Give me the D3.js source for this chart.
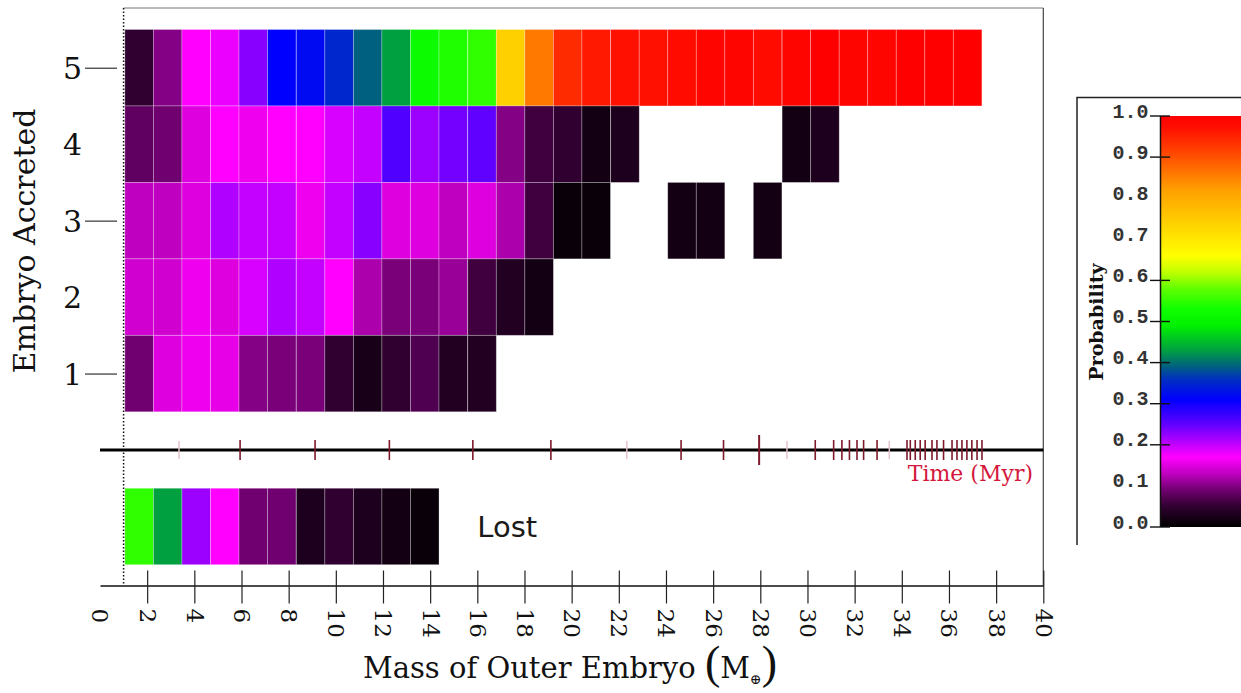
<!DOCTYPE html>
<html>
<head>
<meta charset="utf-8">
<script src="https://cdn.jsdelivr.net/npm/d3@7"></script>
<style>
  html, body { margin: 0; padding: 0; background: #fff; }
  svg { display: block; }
</style>
</head>
<body>
<svg id="chart" width="1241" height="693"></svg>
<script>
// Mass bins of the outer embryo (bin centres, Earth masses)
const massBins = [1.66, 2.87, 4.08, 5.29, 6.50, 7.71, 8.93, 10.14, 11.35, 12.56,
                  13.77, 14.98, 16.20, 17.41, 18.62, 19.83, 21.04, 22.26, 23.47, 24.68,
                  25.89, 27.10, 28.31, 29.53, 30.74, 31.95, 33.16, 34.37, 35.58, 36.79];
const binWidth = 1.2117;

// Probability of having accreted N embryos, per mass bin (null = no outcome)
const accreted5 = [0.05, 0.10, 0.17, 0.18, 0.23, 0.31, 0.32, 0.35, 0.39, 0.43,
                   0.52, 0.54, 0.55, 0.74, 0.86, 0.94, 0.96, 0.97, 0.97, 0.98,
                   0.99, 0.99, 0.98, 0.99, 1.00, 0.99, 0.99, 1.00, 1.00, 1.00];
const accreted4 = [0.08, 0.09, 0.15, 0.17, 0.16, 0.17, 0.17, 0.19, 0.20, 0.26,
                   0.22, 0.24, 0.25, 0.10, 0.06, 0.05, 0.02, 0.03, null, null,
                   null, null, null, 0.02, 0.03];
const accreted3 = [0.13, 0.13, 0.15, 0.21, 0.20, 0.20, 0.16, 0.20, 0.23, 0.15,
                   0.15, 0.13, 0.15, 0.12, 0.06, 0.01, 0.01, null, null, 0.02,
                   0.02, null, 0.02];
const accreted2 = [0.14, 0.14, 0.16, 0.15, 0.19, 0.21, 0.20, 0.17, 0.12, 0.095,
                   0.095, 0.11, 0.06, 0.035, 0.02];
const accreted1 = [0.09, 0.15, 0.16, 0.155, 0.10, 0.095, 0.095, 0.05, 0.025, 0.05,
                   0.07, 0.035, 0.035];
const lostProb  = [0.55, 0.43, 0.22, 0.17, 0.09, 0.09, 0.03, 0.05, 0.03, 0.02, 0.01];

// Outer-embryo mass reached at successive Myr marks
const timeMarks      = [5.94, 9.12, 12.27, 15.81, 19.12, 24.64, 26.44, 30.33, 31.11, 31.46,
                        31.78, 32.10, 32.38, 32.95, 34.22, 34.36, 34.57, 34.78, 34.99, 35.28,
                        35.49, 35.77, 36.13, 36.34, 36.55, 36.76, 36.97, 37.19, 37.40];
const timeMarksFaint = [3.35, 22.34, 29.13, 33.47];
const timeMarksMajor = [27.95];

// Axis ticks and labels
const xLabels = d3.range(0, 41, 2);
const xTicks  = d3.range(2, 41, 2);
const yLabels = [1, 2, 3, 4, 5];
const yTicks  = [1, 3, 5];
const probLabels = [0, 0.1, 0.2, 0.3, 0.4, 0.5, 0.6, 0.7, 0.8, 0.9, 1.0];
const probTicks  = [0, 0.2, 0.3, 0.4, 0.5, 0.6, 0.9, 1.0];

// Colour table: black -> purple -> magenta -> blue -> green -> yellow -> red
const probStops  = [0.00, 0.05, 0.09, 0.13, 0.17, 0.21, 0.25, 0.31, 0.36, 0.39, 0.43,
                    0.49, 0.53, 0.58, 0.62, 0.66, 0.74, 0.82, 0.90, 0.97, 1.00];
const probColors = ["#000000", "#300030", "#700070", "#c000c0", "#ff00ff", "#b000ff",
                    "#6000ff", "#0000ff", "#0030c0", "#006080", "#00a040", "#00f000",
                    "#10ff00", "#60ff00", "#c0ff00", "#ffff00", "#ffd000", "#ffa000",
                    "#ff5000", "#ff1000", "#ff0000"];

const svg = d3.select("#chart");
const serif = "'DejaVu Serif', 'Liberation Serif', serif";

const x = d3.scaleLinear().domain([0, 40]).range([100, 1043.3]);
const y = d3.scaleLinear().domain([-1.5, 5.5]).range([564.7, 29.5]);
const color = d3.scaleLinear().domain(probStops).range(probColors)
  .interpolate(d3.interpolateRgb).clamp(true);

// Heat-map rows: accreted 5..1 and the "lost" band below the time axis
const heatRows = [
  { level: 5, values: accreted5 },
  { level: 4, values: accreted4 },
  { level: 3, values: accreted3 },
  { level: 2, values: accreted2 },
  { level: 1, values: accreted1 },
  { level: -1, values: lostProb }
];
const cellW = x(binWidth) - x(0);
const cellsG = svg.append("g");
heatRows.forEach(row => {
  const cells = row.values
    .map((v, i) => ({ v, m: massBins[i] }))
    .filter(d => d.v !== null && d.v !== undefined);
  cellsG.append("g").selectAll("rect").data(cells).join("rect")
    .attr("x", d => x(d.m - binWidth / 2))
    .attr("width", cellW)
    .attr("y", y(row.level + 0.5))
    .attr("height", y(row.level - 0.5) - y(row.level + 0.5))
    .attr("fill", d => color(d.v))
    .attr("stroke", "rgba(255,255,255,0.35)")
    .attr("stroke-width", 0.8);
});

// Frame: top edge, right edge, dotted line at 1 M_earth
svg.append("line").attr("x1", x(1)).attr("x2", x(40)).attr("y1", 8).attr("y2", 8)
  .attr("stroke", "#777").attr("stroke-width", 1);
svg.append("line").attr("x1", x(40)).attr("x2", x(40)).attr("y1", 8).attr("y2", 585.5)
  .attr("stroke", "#444").attr("stroke-width", 1.2);
svg.append("line").attr("x1", x(1)).attr("x2", x(1)).attr("y1", 8).attr("y2", 585.5)
  .attr("stroke", "#111").attr("stroke-width", 1.5).attr("stroke-dasharray", "1.5,2");

// Time axis
svg.append("line").attr("x1", x(0)).attr("x2", x(40)).attr("y1", y(0)).attr("y2", y(0))
  .attr("stroke", "#000").attr("stroke-width", 3);
const tG = svg.append("g");
tG.selectAll("line.faint").data(timeMarksFaint).join("line").attr("class", "faint")
  .attr("x1", d => x(d)).attr("x2", d => x(d))
  .attr("y1", y(0) - 9).attr("y2", y(0) + 9)
  .attr("stroke", "#e6c2ca").attr("stroke-width", 1.5);
tG.selectAll("line.mark").data(timeMarks).join("line").attr("class", "mark")
  .attr("x1", d => x(d)).attr("x2", d => x(d))
  .attr("y1", y(0) - 10).attr("y2", y(0) + 10)
  .attr("stroke", "#7e1a2c").attr("stroke-width", 1.6);
tG.selectAll("line.major").data(timeMarksMajor).join("line").attr("class", "major")
  .attr("x1", d => x(d)).attr("x2", d => x(d))
  .attr("y1", y(0) - 15).attr("y2", y(0) + 15)
  .attr("stroke", "#7e1a2c").attr("stroke-width", 2);
svg.append("text").attr("x", 1033).attr("y", 481).attr("text-anchor", "end")
  .attr("font-family", serif).attr("font-size", 22).attr("fill", "#d4183c")
  .text("Time (Myr)");

// "Lost" band label
svg.append("text").attr("x", x(16)).attr("y", y(-1)).attr("dy", "0.36em")
  .attr("font-family", "'DejaVu Sans', sans-serif").attr("font-size", 29).attr("fill", "#1a1a1a")
  .text("Lost");

// X axis
const xAxis = svg.append("g").attr("transform", "translate(0,585.5)")
  .call(d3.axisBottom(x).tickValues(xLabels).tickSizeInner(18).tickSizeOuter(0)
    .tickFormat(d3.format("d")));
xAxis.select(".domain").attr("stroke", "#111").attr("stroke-width", 1.4);
xAxis.selectAll(".tick line").attr("y1", -15).attr("stroke", "#222").attr("stroke-width", 1.2)
  .filter(d => !xTicks.includes(d)).remove();
xAxis.selectAll(".tick text")
  .attr("transform", "rotate(90)")
  .attr("x", 23).attr("y", 0).attr("dy", "0.35em")
  .attr("text-anchor", "start")
  .attr("font-family", serif).attr("font-size", 23).attr("fill", "#111");

// X axis title
const xt = svg.append("text").attr("x", 363).attr("y", 678)
  .attr("font-family", serif).attr("font-size", 29).attr("fill", "#111");
xt.append("tspan").text("Mass of Outer Embryo ");
xt.append("tspan").attr("font-family", "'Liberation Serif', serif").attr("font-size", 46).text("(");
xt.append("tspan").text("M");
xt.append("tspan").attr("font-size", 14).attr("dy", 6).text("\u2295");
xt.append("tspan").attr("font-family", "'Liberation Serif', serif").attr("font-size", 46).attr("dy", -6).text(")");

// Y axis
const yAxis = svg.append("g").attr("transform", "translate(117,0)")
  .call(d3.axisLeft(y).tickValues(yLabels).tickSize(32).tickPadding(3)
    .tickFormat(d3.format("d")));
yAxis.select(".domain").remove();
yAxis.selectAll(".tick line").attr("stroke", "#333").attr("stroke-width", 1.2)
  .filter(d => !yTicks.includes(d)).remove();
yAxis.selectAll(".tick text").attr("font-family", serif).attr("font-size", 30)
  .attr("fill", "#111").attr("dy", "0.36em");

svg.append("text").attr("transform", "translate(35,241) rotate(-90)")
  .attr("text-anchor", "middle").attr("font-family", serif).attr("font-size", 30)
  .attr("fill", "#111").text("Embryo Accreted");

// Colour bar
const probY = d3.scaleLinear().domain([0, 1]).range([527, 116]);
const grad = svg.append("defs").append("linearGradient").attr("id", "probGrad")
  .attr("x1", 0).attr("y1", 1).attr("x2", 0).attr("y2", 0);
grad.selectAll("stop").data(probStops).join("stop")
  .attr("offset", d => d).attr("stop-color", (d, i) => probColors[i]);
svg.append("rect").attr("x", 1160.5).attr("y", probY(1)).attr("width", 90)
  .attr("height", probY(0) - probY(1)).attr("fill", "url(#probGrad)");
svg.append("line").attr("x1", 1160.5).attr("x2", 1160.5).attr("y1", probY(1)).attr("y2", probY(0))
  .attr("stroke", "#111").attr("stroke-width", 1.5);
svg.append("g").selectAll("line").data(probTicks).join("line")
  .attr("x1", 1150).attr("x2", 1170).attr("y1", d => probY(d)).attr("y2", d => probY(d))
  .attr("stroke", "#111").attr("stroke-width", 1.4);
const cAxis = svg.append("g").attr("transform", "translate(1160.5,0)")
  .call(d3.axisLeft(probY).tickValues(probLabels).tickSize(0).tickPadding(12)
    .tickFormat(d3.format(".1f")));
cAxis.select(".domain").remove();
cAxis.selectAll(".tick text").attr("dy", "0.05em")
  .attr("font-family", "'Liberation Mono', 'DejaVu Sans Mono', monospace")
  .attr("font-size", 20).attr("font-weight", "bold").attr("fill", "#333");
svg.append("text").attr("transform", "translate(1103,322) rotate(-90)")
  .attr("text-anchor", "middle").attr("font-family", serif).attr("font-weight", "bold")
  .attr("font-size", 19).attr("fill", "#111").text("Probability");
// Colour-bar box
svg.append("path").attr("d", "M1077,545V97.5H1241")
  .attr("fill", "none").attr("stroke", "#222").attr("stroke-width", 1.5);
</script>
</body>
</html>
